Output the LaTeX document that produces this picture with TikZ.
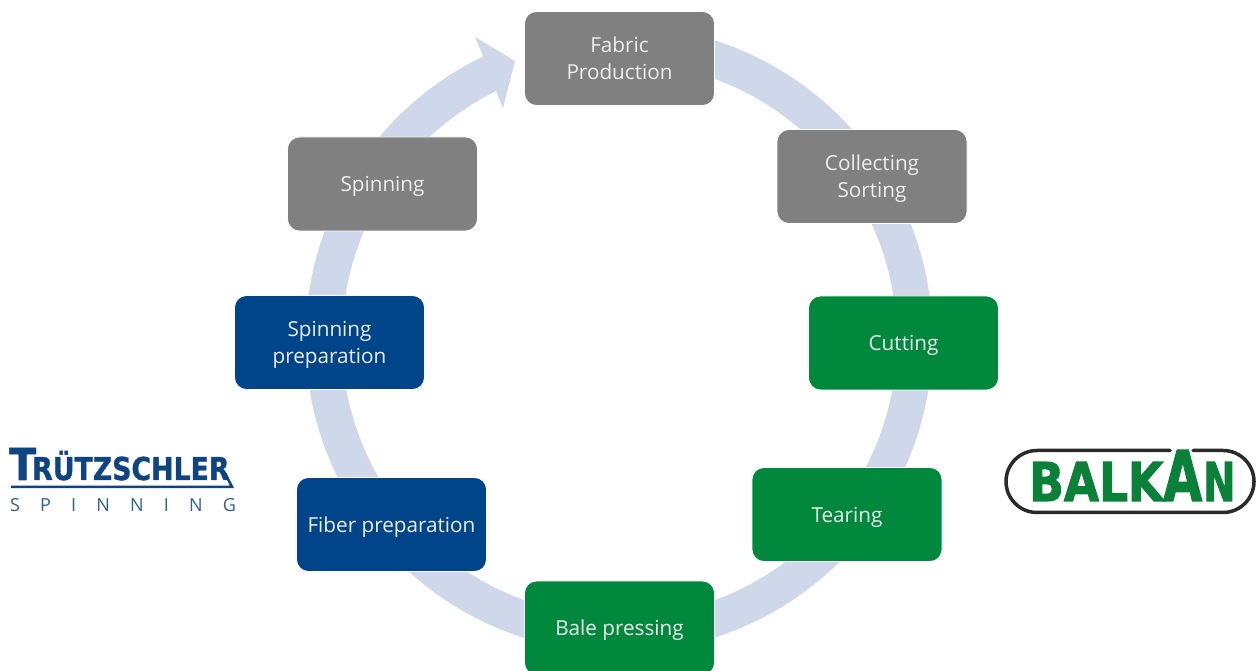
\documentclass[tikz,border=0pt]{standalone}
\usepackage{fontspec}
\usepackage{graphicx}
\setmainfont{Open Sans}
\newfontfamily\logofont{DejaVu Sans Bold}[FakeBold=1.2]
\newfontfamily\balkfont{DejaVu Sans Bold}[FakeBold=2]
\newfontfamily\spinfont{Open Sans}[LetterSpace=112]
\definecolor{ringc}{HTML}{CFD7EB}
\definecolor{greyc}{HTML}{808080}
\definecolor{greenc}{HTML}{00883C}
\definecolor{bluec}{HTML}{004489}
\definecolor{truc}{HTML}{0F4483}
\definecolor{balkg}{HTML}{0B8038}
\definecolor{balkk}{HTML}{2A2A2A}
\tikzset{
  stagebox/.style={rectangle,rounded corners=12pt,draw=white,line width=0.8pt,minimum width=190pt,minimum height=94pt,
    text=white!93!black,align=center,font=\fontsize{20.7}{27}\selectfont,inner sep=0pt,text depth=0pt},
  greybox/.style={stagebox,fill=greyc},
  greenbox/.style={stagebox,fill=greenc},
  bluebox/.style={stagebox,fill=bluec},
  trutext/.style={text=truc,inner sep=0pt,anchor=base west},
  balktext/.style={text=balkg,inner sep=0pt,anchor=base west}
}
\begin{document}
\begin{tikzpicture}[x=1pt,y=1pt]
\clip (0,0) rectangle (1257,671);
\fill[white] (0,0) rectangle (1257,671);
% ring
\fill[ringc] (619,332) ++(90:313.5) arc[start angle=90,end angle=-244.3,radius=313.5]
  -- (475,634) -- (515,610) -- (503,563) -- (496,580)
  arc[start angle=-243.6,end angle=90,radius=277.5] -- cycle;
% stages
\node[greybox]  (fabric) at (619.5,612.5) {Fabric\\Production};
\node[greybox]  (collect) at (872,494.5) {Collecting\\Sorting};
\node[greenbox] (cutting) at (903.5,328) {Cutting};
\node[greenbox] (tearing) at (847,156.5) {Tearing};
\node[greenbox] (bale) at (619.5,43) {Bale pressing};
\node[bluebox]  (fiber) at (391.5,146.5) {Fiber preparation};
\node[bluebox]  (spinprep) at (329.5,328.5) {Spinning\\preparation};
\node[greybox]  (spinning) at (382.5,487) {Spinning};
% Truetzschler logo
\node[trutext,font=\logofont\fontsize{44}{44}\selectfont] (trut) at (9,191) {\scalebox{0.9}[1]{T}};
\node[trutext,font=\logofont\fontsize{31.5}{32}\selectfont] (trurest) at (32,191) {\scalebox{0.85}[1]{RÜTZSCHLER}};
\draw[truc,line width=2.5pt] (11,184) -- (232,184) -- (225,198);
\node[text=truc!85!white,inner sep=0pt,anchor=base west,font=\spinfont\fontsize{18}{18}\selectfont] (truspin) at (10,159) {SPINNING};
% Balkan logo
\draw[balkk,line width=3.5pt,line cap=round] (1170,220.5) -- (1037,220.5) arc[start angle=90,end angle=270,radius=31]
  -- (1223,158.5) arc[start angle=-90,end angle=90,radius=31] -- (1193,220.5);
\node[balktext,font=\balkfont\fontsize{53.5}{54}\selectfont] (balk) at (1029,170) {\scalebox{0.85}[1]{BALK}};
\node[balktext,font=\balkfont\fontsize{70}{70}\selectfont] (balka) at (1163,170) {\scalebox{0.72}[1]{A}};
\node[balktext,font=\balkfont\fontsize{53.5}{54}\selectfont] (balkn) at (1203,170) {\scalebox{0.72}[1]{N}};
\end{tikzpicture}
\end{document}
